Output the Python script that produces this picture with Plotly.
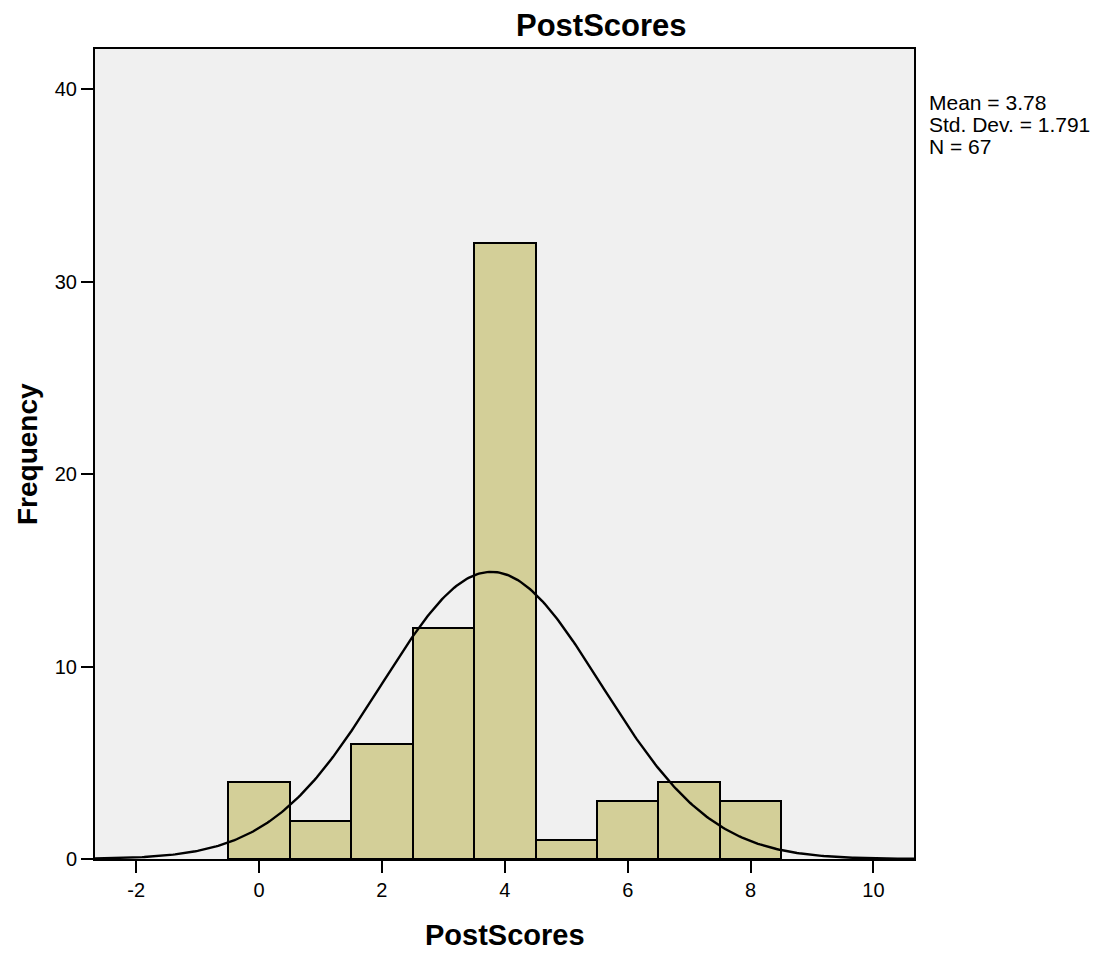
import numpy as np
import plotly.graph_objects as go

# Data
bin_centers = [0, 1, 2, 3, 4, 5, 6, 7, 8]
frequencies = [4, 2, 6, 12, 32, 1, 3, 4, 3]
mean_val = 3.78
std_dev = 1.791
n_total = 67
x_ticks = [-2, 0, 2, 4, 6, 8, 10]
y_ticks = [0, 10, 20, 30, 40]
stat_lines = [f"Mean = {mean_val}", f"Std. Dev. = {std_dev}", f"N = {n_total}"]

# Fitted normal curve (scaled to counts, bin width 1)
xc = np.linspace(-2.67, 10.66, 400)
yc = n_total * 1.0 / (std_dev * np.sqrt(2 * np.pi)) * np.exp(-0.5 * ((xc - mean_val) / std_dev) ** 2)

fig = go.Figure()
fig.add_trace(go.Bar(
    x=bin_centers, y=frequencies, width=1,
    marker=dict(color="#D3CF98", line=dict(color="black", width=2)),
    hoverinfo="x+y", showlegend=False,
))
fig.add_trace(go.Scatter(
    x=xc, y=yc, mode="lines", line=dict(color="black", width=2.4),
    showlegend=False, hoverinfo="skip",
))

font_family = "Liberation Sans, Arial, sans-serif"
axis_common = dict(
    showgrid=False, zeroline=False, showline=True, linecolor="black", linewidth=2,
    mirror=True, ticks="outside", ticklen=12, tickwidth=2, tickcolor="black",
    tickfont=dict(size=20),
)
annotations = [
    dict(text="<b>PostScores</b>", xref="paper", yref="paper",
         x=0.619, y=1, yshift=24, xanchor="center", yanchor="middle",
         showarrow=False, font=dict(size=31)),
    dict(text="<b>PostScores</b>", xref="paper", yref="paper",
         x=0.5, y=0, yshift=-76, xanchor="center", yanchor="middle",
         showarrow=False, font=dict(size=29)),
    dict(text="<b>Frequency</b>", xref="paper", yref="paper", textangle=-90,
         x=0, xshift=-68, y=0.5, xanchor="center", yanchor="middle",
         showarrow=False, font=dict(size=28)),
]
for i, line in enumerate(stat_lines):
    annotations.append(dict(
        text=line, xref="paper", yref="paper", x=1, xshift=13,
        y=1, yshift=-(53 + 22 * i), xanchor="left", yanchor="middle",
        align="left", showarrow=False, font=dict(size=21),
    ))

fig.update_layout(
    width=1101, height=953,
    margin=dict(l=87, r=195, t=41, b=102),
    plot_bgcolor="#F0F0F0", paper_bgcolor="white",
    font=dict(family=font_family, color="black", size=16),
    bargap=0,
    xaxis=dict(range=[-2.67, 10.66], tickvals=x_ticks,
               ticktext=[str(v) for v in x_ticks], **axis_common),
    yaxis=dict(range=[0, 42.1], tickvals=y_ticks,
               ticktext=[str(v) for v in y_ticks], **axis_common),
    annotations=annotations,
)

fig.write_html("out.html")
